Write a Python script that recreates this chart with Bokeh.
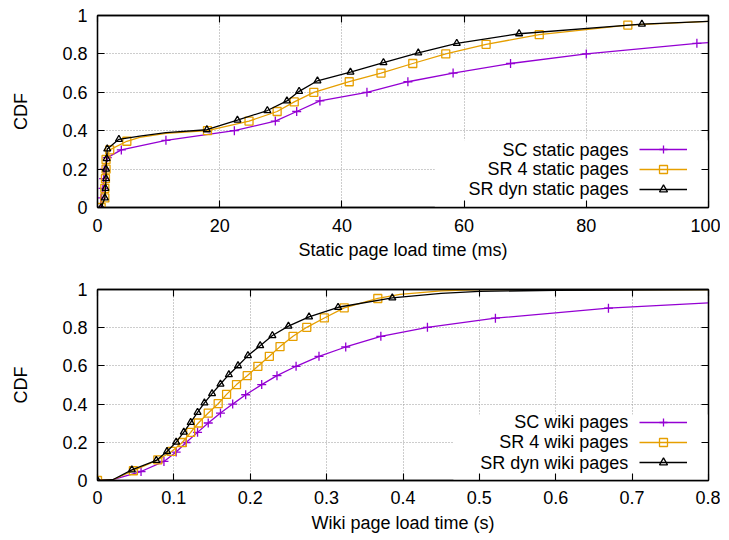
from bokeh.plotting import figure
from bokeh.models import (Range1d, FixedTicker, LinearAxis, Legend, LegendItem,
                          Label, BoxAnnotation, CustomLabelingPolicy)
from bokeh.layouts import column
from bokeh.embed import file_html
from bokeh.resources import INLINE

# ---------------- data ----------------
# Static pages (ms)
sc_static_x = [0.5, 0.6, 0.9, 1.0, 1.1, 1.6, 3.9, 11.2, 22.4, 29.1, 32.6, 36.4, 44.1, 50.8, 58.2, 67.6, 80.0, 98.1]
sc_static_y = [0.0, 0.05, 0.10, 0.15, 0.20, 0.26, 0.30, 0.35, 0.40, 0.45, 0.50, 0.555, 0.60, 0.655, 0.70, 0.75, 0.80, 0.855]
sc_static_tail_x = [100.0]
sc_static_tail_y = [0.859]

sr4_static_x = [0.6, 1.2, 1.2, 1.3, 1.4, 1.4, 2.0, 4.8, 18.0, 24.8, 29.4, 32.2, 35.4, 41.2, 46.4, 51.6, 57.0, 63.6, 72.3, 86.8]
sr4_static_y = [0.0, 0.05, 0.10, 0.15, 0.20, 0.25, 0.30, 0.345, 0.40, 0.45, 0.50, 0.55, 0.60, 0.655, 0.70, 0.75, 0.80, 0.85, 0.90, 0.95]
sr4_static_mid_x = [6.9, 11.2]
sr4_static_mid_y = [0.365, 0.386]
sr4_static_tail_x = [100.0]
sr4_static_tail_y = [0.969]

srd_static_x = [0.6, 1.2, 1.3, 1.4, 1.4, 1.5, 1.6, 3.5, 17.9, 22.9, 27.8, 31.0, 33.0, 36.0, 41.4, 46.8, 52.5, 58.8, 69.0, 89.1]
srd_static_y = [0.0, 0.05, 0.10, 0.15, 0.20, 0.255, 0.305, 0.355, 0.405, 0.455, 0.505, 0.555, 0.605, 0.66, 0.705, 0.755, 0.805, 0.855, 0.905, 0.955]
srd_static_mid_x = [6.9, 11.2]
srd_static_mid_y = [0.372, 0.39]
srd_static_tail_x = [100.0]
srd_static_tail_y = [0.969]

# Wiki pages (s)
sc_wiki_x = [0.0, 0.057, 0.087, 0.103, 0.116, 0.131, 0.145, 0.161, 0.177, 0.194, 0.215, 0.235, 0.260, 0.290, 0.325, 0.371, 0.432, 0.521, 0.669]
sc_wiki_y = [0.0, 0.047, 0.10, 0.149, 0.199, 0.252, 0.301, 0.353, 0.40, 0.449, 0.502, 0.549, 0.598, 0.65, 0.699, 0.755, 0.802, 0.85, 0.902]
sc_wiki_tail_x = [0.8]
sc_wiki_tail_y = [0.93]

sr4_wiki_x = [0.0, 0.047, 0.079, 0.097, 0.111, 0.122, 0.132, 0.145, 0.158, 0.169, 0.182, 0.196, 0.210, 0.225, 0.239, 0.256, 0.274, 0.297, 0.323, 0.367]
sr4_wiki_y = [0.0, 0.051, 0.108, 0.152, 0.199, 0.252, 0.301, 0.353, 0.402, 0.451, 0.502, 0.549, 0.598, 0.65, 0.701, 0.755, 0.802, 0.851, 0.904, 0.953]
sr4_wiki_tail_x = [0.396, 0.45, 0.5, 0.8]
sr4_wiki_tail_y = [0.974, 0.993, 0.999, 1.0]

srd_wiki_x = [0.0, 0.045, 0.077, 0.091, 0.103, 0.113, 0.122, 0.131, 0.140, 0.150, 0.161, 0.172, 0.184, 0.197, 0.213, 0.229, 0.250, 0.277, 0.315, 0.386]
srd_wiki_y = [0.0, 0.056, 0.105, 0.152, 0.201, 0.253, 0.304, 0.357, 0.406, 0.455, 0.505, 0.554, 0.601, 0.654, 0.706, 0.759, 0.808, 0.857, 0.907, 0.956]
srd_wiki_tail_x = [0.45, 0.5, 0.6, 0.8]
srd_wiki_tail_y = [0.98, 0.99, 0.996, 0.999]

wiki_head_x = [0.02]
wiki_head_y = [0.004]

static_xticks = [0, 20, 40, 60, 80, 100]
wiki_xticks = [0, 0.1, 0.2, 0.3, 0.4, 0.5, 0.6, 0.7, 0.8]
y_ticks = [0, 0.2, 0.4, 0.6, 0.8, 1]

static_labels = ["SC static pages", "SR 4 static pages", "SR dyn static pages"]
wiki_labels = ["SC wiki pages", "SR 4 wiki pages", "SR dyn wiki pages"]

# ---------------- style ----------------
FONT = "Liberation Sans"
FS = "18px"
PURPLE = "#9400d3"
ORANGE = "#e69f00"
BLACK = "#000000"
COLORS = [PURPLE, ORANGE, BLACK]
MARKERS = ["cross", "square", "triangle"]
SIZES = [9, 8, 7]

NO_LABELS = CustomLabelingPolicy(code="""
for (let i = 0; i < indices.size; i++) { indices.unset(i) }
return indices
""")


def mirror_axis(ticks):
    return LinearAxis(ticker=FixedTicker(ticks=ticks), major_label_policy=NO_LABELS,
                      major_label_text_font_size="1px",
                      major_label_standoff=0, major_tick_in=7, major_tick_out=0,
                      minor_tick_in=0, minor_tick_out=0, axis_line_width=1.3,
                      major_tick_line_width=1.1)


def make_fig(height, top_b, bottom_b, x_end, x_ticks, xlabel, x_over, tick_sd, lab_sd):
    p = figure(width=720, height=height, output_backend="svg", toolbar_location=None,
               x_range=Range1d(0, x_end), y_range=Range1d(0, 1),
               min_border_left=97, min_border_right=12,
               min_border_top=top_b, min_border_bottom=bottom_b)
    p.xaxis.ticker = FixedTicker(ticks=x_ticks)
    p.yaxis.ticker = FixedTicker(ticks=y_ticks)
    p.xaxis.major_label_overrides = x_over
    p.yaxis.major_label_overrides = {0: "0", 1: "1"}
    p.xaxis.axis_label = xlabel
    p.yaxis.axis_label = "CDF"
    p.xaxis.major_label_standoff = tick_sd
    p.xaxis.axis_label_standoff = lab_sd
    p.yaxis.major_label_standoff = 10
    p.yaxis.axis_label_standoff = 28
    for ax in (p.xaxis, p.yaxis):
        ax.major_label_text_font = FONT
        ax.major_label_text_font_size = FS
        ax.major_label_text_color = "#000000"
        ax.axis_label_text_font = FONT
        ax.axis_label_text_font_size = FS
        ax.axis_label_text_font_style = "normal"
        ax.axis_label_text_color = "#000000"
        ax.major_tick_in = 7
        ax.major_tick_out = 0
        ax.minor_tick_in = 0
        ax.minor_tick_out = 0
        ax.axis_line_width = 1.3
        ax.major_tick_line_width = 1.1
    # mirrored ticks on the top and right frame edges
    p.add_layout(mirror_axis(x_ticks), "above")
    p.add_layout(mirror_axis(y_ticks), "right")
    p.grid.grid_line_color = "#9a9a9a"
    p.grid.grid_line_dash = "1 2"
    p.grid.grid_line_width = 1
    p.outline_line_color = "#000000"
    p.outline_line_width = 1.3
    p.background_fill_color = "white"
    p.border_fill_color = "white"
    return p


def add_series(p, xs_line, ys_line, xs_m, ys_m, i):
    l = p.line(xs_line, ys_line, line_color=COLORS[i], line_width=1.3)
    s = p.scatter(xs_m, ys_m, marker=MARKERS[i], size=SIZES[i], line_color=COLORS[i],
                  fill_color=None, line_width=1.3)
    return [l, s]


def add_legend(p, renderer_sets, labels, box_left, box_top, x_end, text_x, row_y):
    box = BoxAnnotation(left=box_left, right=x_end, bottom=0, top=box_top,
                        fill_color="white", fill_alpha=1, line_color=None, level="underlay")
    p.add_layout(box)
    leg = Legend(items=[LegendItem(label=" ", renderers=rs) for rs in renderer_sets],
                 location=(542, 8), glyph_width=48, glyph_height=20, label_height=20,
                 label_width=0, label_standoff=0, spacing=0, padding=0, margin=0,
                 border_line_color=None, background_fill_alpha=0,
                 label_text_font_size="10px")
    p.add_layout(leg)
    for lab, y in zip(labels, row_y):
        p.add_layout(Label(x=text_x, y=y, text=lab, text_align="right", text_baseline="middle",
                           text_font=FONT, text_font_size=FS, text_color="#000000"))


# ---------------- top: static pages ----------------
p1 = make_fig(277, 15, 70, 100, static_xticks, "Static page load time (ms)", {}, 11, 5)
r1 = add_series(p1, sc_static_x + sc_static_tail_x, sc_static_y + sc_static_tail_y,
                sc_static_x, sc_static_y, 0)
sr4_line = sorted(zip(sr4_static_x + sr4_static_mid_x + sr4_static_tail_x,
                      sr4_static_y + sr4_static_mid_y + sr4_static_tail_y))
r2 = add_series(p1, [a for a, b in sr4_line], [b for a, b in sr4_line],
                sr4_static_x, sr4_static_y, 1)
srd_line = sorted(zip(srd_static_x + srd_static_mid_x + srd_static_tail_x,
                      srd_static_y + srd_static_mid_y + srd_static_tail_y))
r3 = add_series(p1, [a for a, b in srd_line], [b for a, b in srd_line],
                srd_static_x, srd_static_y, 2)
add_legend(p1, [r1, r2, r3], static_labels, 55.2, 0.35, 100, 86.9, [0.302, 0.198, 0.094])

# ---------------- bottom: wiki pages ----------------
p2 = make_fig(262, 12, 59, 0.8, wiki_xticks, "Wiki page load time (s)", {0: "0"}, 10, 6)
q1 = add_series(p2, sc_wiki_x[:1] + wiki_head_x + sc_wiki_x[1:] + sc_wiki_tail_x,
                sc_wiki_y[:1] + wiki_head_y + sc_wiki_y[1:] + sc_wiki_tail_y,
                sc_wiki_x, sc_wiki_y, 0)
q2 = add_series(p2, sr4_wiki_x[:1] + wiki_head_x + sr4_wiki_x[1:] + sr4_wiki_tail_x,
                sr4_wiki_y[:1] + wiki_head_y + sr4_wiki_y[1:] + sr4_wiki_tail_y,
                sr4_wiki_x, sr4_wiki_y, 1)
q3 = add_series(p2, srd_wiki_x[:1] + wiki_head_x + srd_wiki_x[1:] + srd_wiki_tail_x,
                srd_wiki_y[:1] + wiki_head_y + srd_wiki_y[1:] + srd_wiki_tail_y,
                srd_wiki_x, srd_wiki_y, 2)
add_legend(p2, [q1, q2, q3], wiki_labels, 0.466, 0.345, 0.8, 0.695, [0.304, 0.199, 0.094])

layout = column(p1, p2, spacing=0)
open("out.html", "w").write(file_html(layout, INLINE))
